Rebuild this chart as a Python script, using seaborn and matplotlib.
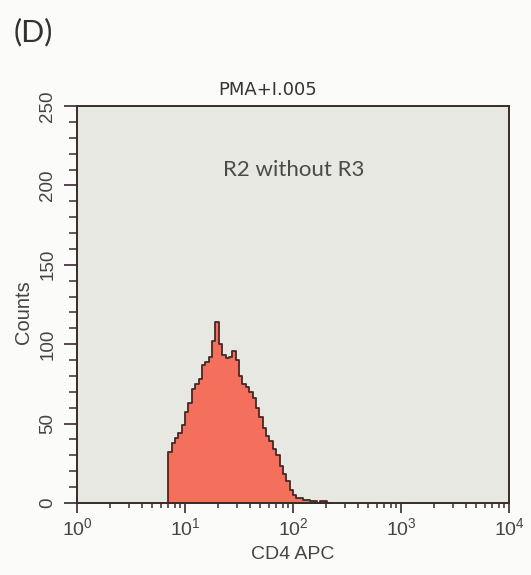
import numpy as np
import pandas as pd
import seaborn as sns
import matplotlib.pyplot as plt
from matplotlib.ticker import LogLocator, MultipleLocator, NullFormatter

# histogram channels: 1/32 decade wide, first bin starts at 10**(27/32)
bin_width = 1 / 32
first_edge = 27 / 32
counts = [32, 38, 41, 44, 49, 57, 63, 72, 75, 78,
          87, 89, 92, 102, 114, 100, 93, 91, 92, 96,
          90, 80, 75, 73, 70, 66, 60, 54, 47, 42,
          39, 34, 30, 23, 18, 14, 8, 5, 3, 3,
          2, 2, 1, 1, 0, 1, 1, 0]
y_ticks = [0, 50, 100, 150, 200, 250]
x_ticks = [1, 10, 100, 1000, 10000]
x_labels = ['$10^0$', '$10^1$', '$10^2$', '$10^3$', '$10^4$']

n = len(counts)
log_centers = first_edge + bin_width * (np.arange(n) + 0.5)
df = pd.DataFrame({'CD4 APC': 10 ** log_centers, 'count': counts})

sns.set_theme(style='white')
plt.rcParams['font.family'] = ['Liberation Sans', 'DejaVu Sans']
plt.rcParams['mathtext.fontset'] = 'custom'
plt.rcParams['mathtext.rm'] = 'Liberation Sans'
plt.rcParams['mathtext.it'] = 'Liberation Sans'

fig = plt.figure(figsize=(5.31, 5.75), dpi=100, facecolor='#fbfbf9')
ax = fig.add_axes([77 / 531, 1 - 503 / 575, 432 / 531, 397 / 575])
ax.set_facecolor('#e7e8e2')

sns.histplot(data=df, x='CD4 APC', weights='count', log_scale=True,
             binwidth=bin_width, binrange=(first_edge, first_edge + n * bin_width),
             element='step', fill=True, color='#f4705d', alpha=1,
             edgecolor='#4a2626', linewidth=1.3, ax=ax)

ax.set_xlim(1, 10000)
ax.set_ylim(0, 250)
ax.set_xticks(x_ticks)
ax.set_xticklabels(x_labels)
ax.xaxis.set_minor_locator(LogLocator(base=10, subs=np.arange(2, 10)))
ax.xaxis.set_minor_formatter(NullFormatter())
ax.set_yticks(y_ticks)
ax.yaxis.set_minor_locator(MultipleLocator(10))

for s in ax.spines.values():
    s.set_color('#3a2a2a')
    s.set_linewidth(1.4)

ax.tick_params(axis='both', which='both', bottom=True, left=True, direction='out',
               color='#3a2a2a', labelcolor='#444444')
ax.tick_params(axis='x', which='major', length=7, width=1.2, pad=3, labelsize=14)
ax.tick_params(axis='x', which='minor', length=3.8, width=1.1)
ax.tick_params(axis='y', which='major', length=9.4, width=1.2, pad=5.5,
               labelsize=13.5, labelrotation=90)
ax.tick_params(axis='y', which='minor', length=5.8, width=1.1)
for lab in ax.get_yticklabels():
    lab.set_va('center')

ax.set_xlabel('CD4 APC', fontsize=14, color='#444444', labelpad=5)
ax.set_ylabel('Counts', fontsize=14.5, color='#444444')
ax.yaxis.set_label_coords(-0.102, 0.48)

fig.text(268 / 531, 1 - 90 / 575, 'PMA+I.005', ha='center', va='center',
         fontsize=13, color='#333333', family=['DejaVu Sans'])
fig.text(14 / 531, 1 - 32 / 575, '(D)', ha='left', va='center',
         fontsize=22, color='#333333', family=['Lato', 'DejaVu Sans'])
ax.text(10 ** 1.35, 210, 'R2 without R3', ha='left', va='center',
        fontsize=16, color='#4a4a4a', family=['Lato', 'DejaVu Sans'])

fig.savefig('out.png', dpi=100, facecolor=fig.get_facecolor())
